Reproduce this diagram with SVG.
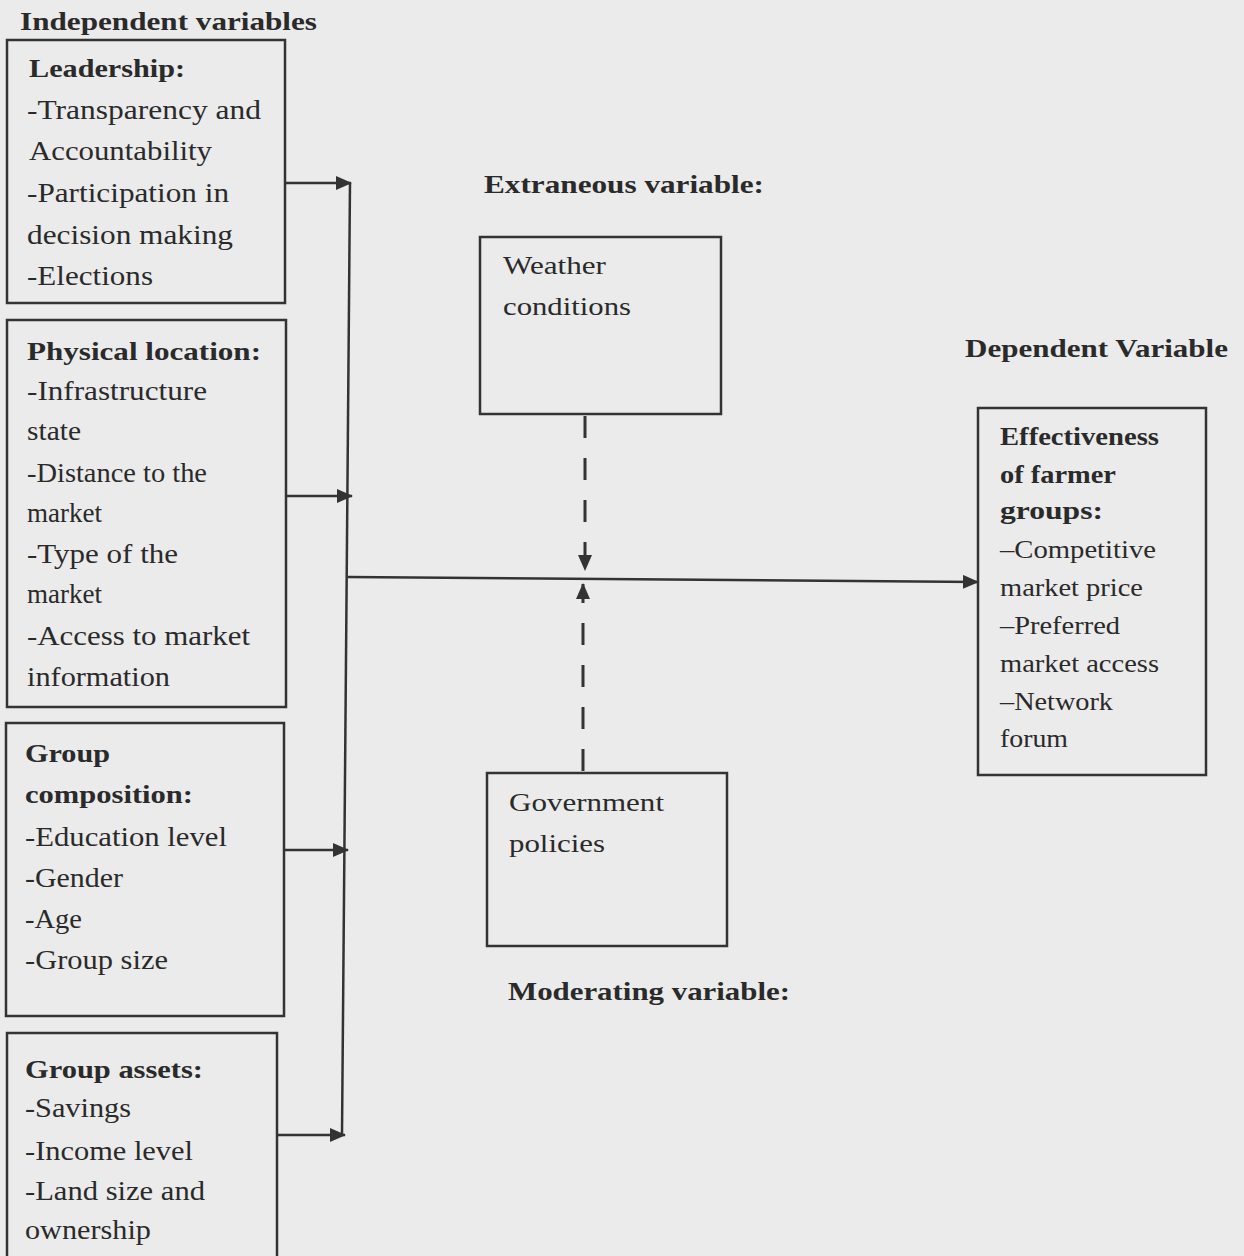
<svg xmlns="http://www.w3.org/2000/svg" width="1244" height="1256" viewBox="0 0 1244 1256">
<style>
.bg{fill:#ebebeb}
.box{fill:none;stroke:#333;stroke-width:2.5}
.t{font-family:"Liberation Serif","Times New Roman",serif;font-size:28px;fill:#2a2a2a}
.b{font-family:"Liberation Serif","Times New Roman",serif;font-size:26px;font-weight:bold;fill:#2a2a2a}
.s{font-size:26px}
.ln{fill:none;stroke:#333;stroke-width:2.5}
.dash{fill:none;stroke:#333;stroke-width:3;stroke-dasharray:22 20}
</style>
<defs>
<marker id="ah" markerUnits="userSpaceOnUse" markerWidth="16" markerHeight="14" refX="15" refY="7" orient="auto">
<path d="M0,0 L16,7 L0,14 Z" fill="#333"/>
</marker>
</defs>
<rect class="bg" x="0" y="0" width="1244" height="1256"/>

<text class="b" x="20" y="30" textLength="297" lengthAdjust="spacingAndGlyphs">Independent variables</text>
<text class="b" x="484" y="193" textLength="280" lengthAdjust="spacingAndGlyphs">Extraneous variable:</text>
<text class="b" x="965" y="357" textLength="263" lengthAdjust="spacingAndGlyphs">Dependent Variable</text>
<text class="b" x="508" y="1000" textLength="282" lengthAdjust="spacingAndGlyphs">Moderating variable:</text>

<g id="leadership">
<rect class="box" x="7" y="40" width="278" height="263"/>
<text class="b" x="29" y="77" textLength="156" lengthAdjust="spacingAndGlyphs">Leadership:</text>
<text class="t" x="27" y="119" textLength="234" lengthAdjust="spacingAndGlyphs">-Transparency and</text>
<text class="t" x="29" y="160" textLength="183" lengthAdjust="spacingAndGlyphs">Accountability</text>
<text class="t" x="27" y="202" textLength="202" lengthAdjust="spacingAndGlyphs">-Participation in</text>
<text class="t" x="27" y="244" textLength="206" lengthAdjust="spacingAndGlyphs">decision making</text>
<text class="t" x="27" y="285" textLength="126" lengthAdjust="spacingAndGlyphs">-Elections</text>
</g>

<g id="physical-location">
<rect class="box" x="7" y="320" width="279" height="387"/>
<text class="b" x="27" y="360" textLength="234" lengthAdjust="spacingAndGlyphs">Physical location:</text>
<text class="t" x="27" y="400" textLength="180" lengthAdjust="spacingAndGlyphs">-Infrastructure</text>
<text class="t" x="27" y="440" textLength="54" lengthAdjust="spacingAndGlyphs">state</text>
<text class="t" x="27" y="482" textLength="180" lengthAdjust="spacingAndGlyphs">-Distance to the</text>
<text class="t" x="27" y="522" textLength="75" lengthAdjust="spacingAndGlyphs">market</text>
<text class="t" x="27" y="563" textLength="151" lengthAdjust="spacingAndGlyphs">-Type of the</text>
<text class="t" x="27" y="603" textLength="75" lengthAdjust="spacingAndGlyphs">market</text>
<text class="t" x="27" y="645" textLength="223" lengthAdjust="spacingAndGlyphs">-Access to market</text>
<text class="t" x="27" y="686" textLength="143" lengthAdjust="spacingAndGlyphs">information</text>
</g>

<g id="group-composition">
<rect class="box" x="6" y="723" width="278" height="293"/>
<text class="b" x="25" y="762" textLength="85" lengthAdjust="spacingAndGlyphs">Group</text>
<text class="b" x="25" y="803" textLength="168" lengthAdjust="spacingAndGlyphs">composition:</text>
<text class="t" x="25" y="846" textLength="202" lengthAdjust="spacingAndGlyphs">-Education level</text>
<text class="t" x="25" y="887" textLength="98" lengthAdjust="spacingAndGlyphs">-Gender</text>
<text class="t" x="25" y="928" textLength="57" lengthAdjust="spacingAndGlyphs">-Age</text>
<text class="t" x="25" y="969" textLength="143" lengthAdjust="spacingAndGlyphs">-Group size</text>
</g>

<g id="group-assets">
<rect class="box" x="7" y="1033" width="270" height="240"/>
<text class="b" x="25" y="1078" textLength="178" lengthAdjust="spacingAndGlyphs">Group assets:</text>
<text class="t" x="25" y="1117" textLength="106" lengthAdjust="spacingAndGlyphs">-Savings</text>
<text class="t" x="25" y="1160" textLength="168" lengthAdjust="spacingAndGlyphs">-Income level</text>
<text class="t" x="25" y="1200" textLength="180" lengthAdjust="spacingAndGlyphs">-Land size and</text>
<text class="t" x="25" y="1239" textLength="126" lengthAdjust="spacingAndGlyphs">ownership</text>
</g>

<g id="weather">
<rect class="box" x="480" y="237" width="241" height="177"/>
<text class="t s" x="503" y="274" textLength="103" lengthAdjust="spacingAndGlyphs">Weather</text>
<text class="t s" x="503" y="315" textLength="128" lengthAdjust="spacingAndGlyphs">conditions</text>
</g>

<g id="government">
<rect class="box" x="487" y="773" width="240" height="173"/>
<text class="t s" x="509" y="811" textLength="155" lengthAdjust="spacingAndGlyphs">Government</text>
<text class="t s" x="509" y="852" textLength="96" lengthAdjust="spacingAndGlyphs">policies</text>
</g>

<g id="effectiveness">
<rect class="box" x="978" y="408" width="228" height="367"/>
<text class="b" x="1000" y="445" textLength="159" lengthAdjust="spacingAndGlyphs">Effectiveness</text>
<text class="b" x="1000" y="483" textLength="116" lengthAdjust="spacingAndGlyphs">of farmer</text>
<text class="b" x="1000" y="519" textLength="103" lengthAdjust="spacingAndGlyphs">groups:</text>
<text class="t s" x="1000" y="558" textLength="156" lengthAdjust="spacingAndGlyphs">–Competitive</text>
<text class="t s" x="1000" y="596" textLength="143" lengthAdjust="spacingAndGlyphs">market price</text>
<text class="t s" x="1000" y="634" textLength="120" lengthAdjust="spacingAndGlyphs">–Preferred</text>
<text class="t s" x="1000" y="672" textLength="159" lengthAdjust="spacingAndGlyphs">market access</text>
<text class="t s" x="1000" y="710" textLength="113" lengthAdjust="spacingAndGlyphs">–Network</text>
<text class="t s" x="1000" y="747" textLength="68" lengthAdjust="spacingAndGlyphs">forum</text>
</g>

<g id="connectors">
<line class="ln" x1="350" y1="183" x2="342" y2="1135"/>
<line class="ln" x1="285" y1="183" x2="351" y2="183" marker-end="url(#ah)"/>
<line class="ln" x1="286" y1="496" x2="352" y2="496" marker-end="url(#ah)"/>
<line class="ln" x1="284" y1="850" x2="348" y2="850" marker-end="url(#ah)"/>
<line class="ln" x1="277" y1="1135" x2="345" y2="1135" marker-end="url(#ah)"/>
<line class="ln" x1="348" y1="577" x2="978" y2="582" marker-end="url(#ah)"/>
<line class="dash" x1="585" y1="416" x2="585" y2="570" marker-end="url(#ah)"/>
<line class="dash" x1="583" y1="771" x2="583" y2="584" marker-end="url(#ah)"/>
</g>
</svg>
